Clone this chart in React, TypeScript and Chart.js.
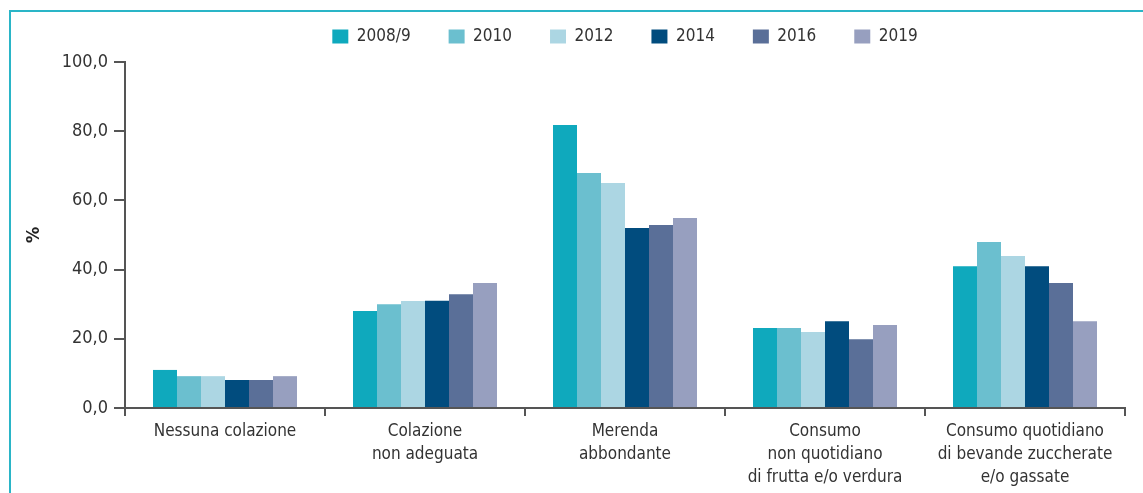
import React, { useEffect, useRef } from "react";
import { Chart, registerables } from "chart.js";

Chart.register(...registerables);

const categories: string[][] = [
  ["Nessuna colazione"],
  ["Colazione", "non adeguata"],
  ["Merenda", "abbondante"],
  ["Consumo", "non quotidiano", "di frutta e/o verdura"],
  ["Consumo quotidiano", "di bevande zuccherate", "e/o gassate"],
];

const seriesLabels = ["2008/9", "2010", "2012", "2014", "2016", "2019"];
const seriesColors = ["#0fa9bd", "#6bbfcf", "#acd6e3", "#014c7e", "#5a6f98", "#979fbf"];

const v2008 = [11.0, 28.0, 81.8, 23.1, 41.0];
const v2010 = [9.2, 30.0, 67.9, 23.1, 48.0];
const v2012 = [9.2, 30.9, 65.0, 22.0, 43.9];
const v2014 = [8.1, 31.0, 52.0, 25.1, 41.0];
const v2016 = [8.1, 32.9, 52.9, 19.9, 36.1];
const v2019 = [9.2, 36.1, 54.9, 24.0, 25.1];

const seriesValues = [v2008, v2010, v2012, v2014, v2016, v2019];

const yTicks = [0, 20, 40, 60, 80, 100];

const FONT = "'Liberation Sans Narrow', 'DejaVu Sans Condensed', sans-serif";

const legendSpacer = {
  id: "legendSpacer",
  beforeInit(chart: any) {
    const legend = chart.legend;
    if (!legend) return;
    const origFit = legend.fit;
    legend.fit = function () {
      origFit.call(this);
      this.height += 7;
    };
  },
};

export default function App() {
  const ref = useRef<HTMLCanvasElement | null>(null);

  useEffect(() => {
    document.body.style.margin = "0";
    const canvas = ref.current;
    if (!canvas) return;
    const chart = new Chart(canvas, {
      type: "bar",
      data: {
        labels: categories,
        datasets: seriesLabels.map((l, i) => ({
          label: l,
          data: seriesValues[i],
          backgroundColor: seriesColors[i],
          borderWidth: 0,
          categoryPercentage: 0.72,
          barPercentage: 1.0,
        })),
      },
      plugins: [legendSpacer],
      options: {
        animation: false,
        responsive: false,
        maintainAspectRatio: false,
        layout: { padding: { left: 0, right: 18, top: -10, bottom: 0 } },
        plugins: {
          tooltip: { enabled: false },
          legend: {
            position: "top",
            fullSize: false,
            labels: {
              boxWidth: 16,
              boxHeight: 14,
              padding: 38,
              color: "#333",
              font: { family: FONT, size: 17 },
            },
          },
        },
        scales: {
          x: {
            grid: {
              display: true,
              drawOnChartArea: false,
              drawTicks: true,
              tickLength: 8,
              color: "#555",
              lineWidth: 2,
              offset: true,
            },
            border: { display: true, color: "#555", width: 2 },
            ticks: {
              color: "#333",
              font: { family: FONT, size: 17, lineHeight: 1.35 },
              padding: 4,
              maxRotation: 0,
              autoSkip: false,
            },
            afterFit: (s: any) => {
              s.height = 85;
            },
          },
          y: {
            min: 0,
            max: 100,
            afterBuildTicks: (s: any) => {
              s.ticks = yTicks.map((v) => ({ value: v }));
            },
            grid: {
              display: true,
              drawOnChartArea: false,
              drawTicks: true,
              tickLength: 11,
              color: "#555",
              lineWidth: 2,
            },
            border: { display: true, color: "#555", width: 2 },
            ticks: {
              color: "#333",
              font: { family: FONT, size: 18 },
              padding: 6,
              callback: (v: any) => Number(v).toFixed(1).replace(".", ","),
            },
            title: {
              display: true,
              text: "%",
              color: "#222",
              font: { family: FONT, size: 18, weight: "bold" },
              padding: { top: 24, bottom: 0 },
            },
            afterFit: (s: any) => {
              s.width = 125;
            },
          },
        },
      },
    });
    return () => chart.destroy();
  }, []);

  return (
    <div style={{ position: "relative", width: 1143, height: 493, overflow: "hidden", background: "#fff" }}>
      <div
        style={{
          position: "absolute",
          left: 9,
          top: 10,
          right: -10,
          bottom: -10,
          borderTop: "2px solid #2ab5c7",
          borderLeft: "2px solid #2ab5c7",
        }}
      />
      <canvas ref={ref} width={1143} height={493} style={{ position: "absolute", left: 0, top: 0, width: 1143, height: 493 }} />
    </div>
  );
}
